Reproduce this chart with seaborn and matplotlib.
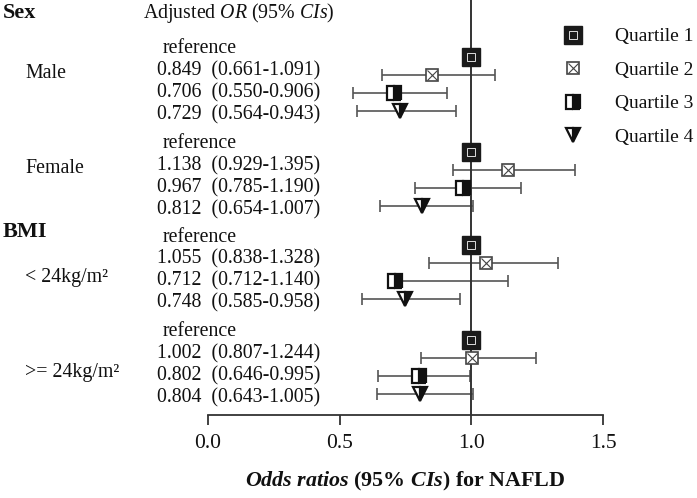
import pandas as pd
import seaborn as sns
import matplotlib.pyplot as plt
import matplotlib.transforms as mtransforms
from matplotlib.lines import Line2D

# Forest plot data: adjusted OR (95% CI) for NAFLD by quartile
sections = ['Sex', 'BMI']
groups = ['Male', 'Female', '< 24kg/m²', '>= 24kg/m²']
quartiles = ['Quartile 1', 'Quartile 2', 'Quartile 3', 'Quartile 4']

or_male = [1.000, 0.849, 0.706, 0.729]
lo_male = [1.000, 0.661, 0.550, 0.564]
hi_male = [1.000, 1.091, 0.906, 0.943]

or_female = [1.000, 1.138, 0.967, 0.812]
lo_female = [1.000, 0.929, 0.785, 0.654]
hi_female = [1.000, 1.395, 1.190, 1.007]

or_bmi_low = [1.000, 1.055, 0.712, 0.748]
lo_bmi_low = [1.000, 0.838, 0.712, 0.585]
hi_bmi_low = [1.000, 1.328, 1.140, 0.958]

or_bmi_high = [1.000, 1.002, 0.802, 0.804]
lo_bmi_high = [1.000, 0.807, 0.646, 0.643]
hi_bmi_high = [1.000, 1.244, 0.995, 1.005]

x_ticks = [0.0, 0.5, 1.0, 1.5]

# long-form table
rows = []
for g, ors, los, his in zip(groups,
                            [or_male, or_female, or_bmi_low, or_bmi_high],
                            [lo_male, lo_female, lo_bmi_low, lo_bmi_high],
                            [hi_male, hi_female, hi_bmi_low, hi_bmi_high]):
    for qi, q in enumerate(quartiles):
        rows.append({'group': g, 'quartile': q, 'qi': qi,
                     'OR': ors[qi], 'lo': los[qi], 'hi': his[qi]})
df = pd.DataFrame(rows)

# layout of the rows
group_start = {'Male': 0.0, 'Female': 5.28, '< 24kg/m²': 10.45, '>= 24kg/m²': 15.72}
label_row = {'Male': 1.1, 'Female': 1.1, '< 24kg/m²': 1.85, '>= 24kg/m²': 1.85}
df['y'] = df['group'].map(group_start) + df['qi']

sns.set_theme(style='white')
plt.rcParams['font.family'] = ['Liberation Serif', 'DejaVu Serif']
plt.rcParams['mathtext.fontset'] = 'custom'
plt.rcParams['mathtext.rm'] = 'Liberation Serif'
plt.rcParams['mathtext.it'] = 'Liberation Serif:italic'
plt.rcParams['mathtext.bf'] = 'Liberation Serif:bold'
plt.rcParams['mathtext.bfit'] = 'Liberation Serif:italic:bold'

fig = plt.figure(figsize=(6.97, 4.98), dpi=100)
ax = fig.add_axes([208 / 697, 1 - 415 / 498, 395 / 697, 415 / 498])

ink = '#333333'
bar_col = '#555555'
txt_col = '#111111'
fs = 14.3

# error bars (reference quartile has none)
ci = df[df['qi'] > 0]
ax.errorbar(ci['OR'], ci['y'], xerr=[ci['OR'] - ci['lo'], ci['hi'] - ci['OR']],
            fmt='none', ecolor=bar_col, elinewidth=1.2, capsize=4.5, capthick=1.2, zorder=2)

ax.axvline(1.0, color=ink, lw=1.4, zorder=3)

styles = {
    'Quartile 1': [dict(marker='s', ms=12.5, mfc='#1a1a1a', mec='#1a1a1a', mew=1),
                   dict(marker='s', ms=5.5, mfc='none', mec='#dddddd', mew=0.7)],
    'Quartile 2': [dict(marker='s', ms=9, mfc='white', mec='#444444', mew=1.2),
                   dict(marker='x', ms=7, mec='#444444', mew=0.8)],
    'Quartile 3': [dict(marker='s', ms=9.5, mfc='#111111', mfcalt='white', fillstyle='right',
                        mec='#111111', mew=1.6)],
    'Quartile 4': [dict(marker='v', ms=10, mfc='#111111', mfcalt='white', fillstyle='right',
                        mec='#111111', mew=1.6)],
}

handles = []
for q in quartiles:
    sub = df[df['quartile'] == q]
    parts = []
    for st in styles[q]:
        ax.plot(sub['OR'], sub['y'], ls='none', zorder=4, **st)
        parts.append(Line2D([], [], ls='none', **st))
    handles.append(tuple(parts))

ax.set_xlim(0, 1.5)
ax.set_ylim(19.89, -3.17)
ax.set_xticks(x_ticks)
ax.set_xticklabels([f'{t:.1f}' for t in x_ticks], fontsize=15.5, color=txt_col)
ax.set_yticks([])
sns.despine(ax=ax, left=True, top=True, right=True)
ax.spines['bottom'].set_color(ink)
ax.spines['bottom'].set_linewidth(1.3)
ax.tick_params(axis='x', direction='out', length=7, width=1.3, color=ink, pad=7, bottom=True)
ax.set_xlabel(r'$\mathbfit{Odds\ ratios}$ (95% $\mathbfit{CIs}$) for NAFLD',
              fontsize=15.8, fontweight='bold', labelpad=12, color=txt_col)

# left side table text (x in figure pixels, y in data units)
trans = mtransforms.blended_transform_factory(fig.transFigure, ax.transData)
W = 697.0
ax.text(3 / W, -2.45, sections[0], transform=trans, fontsize=16, fontweight='bold',
        va='center', ha='left', clip_on=False, color=txt_col)
ax.text(3 / W, group_start[groups[2]] - 0.75, sections[1], transform=trans, fontsize=16,
        fontweight='bold', va='center', ha='left', clip_on=False, color=txt_col)
ax.text(143 / W, -2.45, r'Adjusted $\mathit{OR}$ (95% $\mathit{CIs}$)', transform=trans,
        fontsize=fs, va='center', ha='left', clip_on=False, color=txt_col)

for g in groups:
    ax.text(25 / W, group_start[g] - 0.45 + 1.22 * label_row[g], g, transform=trans,
            fontsize=fs, va='center', ha='left', clip_on=False, color=txt_col)
    sub = df[df['group'] == g]
    for _, r in sub.iterrows():
        ty = group_start[g] - 0.45 + 1.22 * r['qi']
        if r['qi'] == 0:
            ax.text(163 / W, ty, 'reference', transform=trans, fontsize=fs,
                    va='center', ha='left', clip_on=False, color=txt_col)
        else:
            ax.text(157 / W, ty, f"{r['OR']:.3f}  ({r['lo']:.3f}-{r['hi']:.3f})",
                    transform=trans, fontsize=fs, va='center', ha='left', clip_on=False,
                    color=txt_col)

fig.legend(handles, quartiles, loc='upper left', bbox_to_anchor=(550 / W, 1 - 18 / 498),
           frameon=False, fontsize=14, labelspacing=0.82, handlelength=1.4,
           handletextpad=1.45, borderpad=0, labelcolor=txt_col)

fig.savefig('out.png', dpi=100)
